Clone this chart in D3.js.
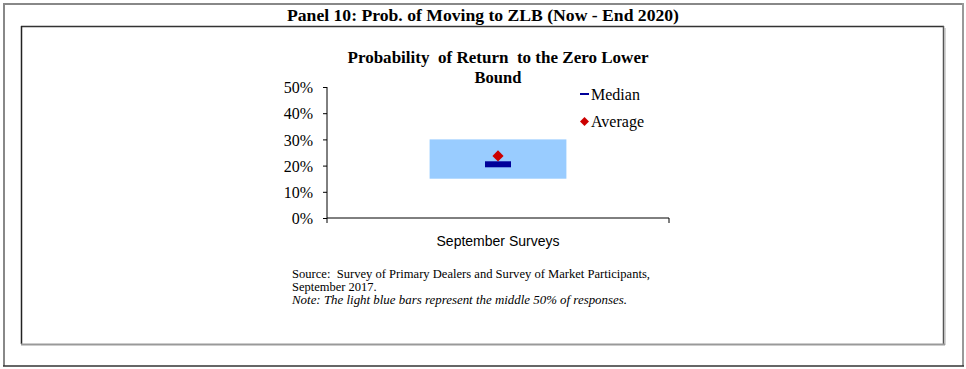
<!DOCTYPE html>
<html><head><meta charset="utf-8">
<script src="https://cdn.jsdelivr.net/npm/d3@7"></script>
<style>body{margin:0;background:#fff}svg{display:block}</style>
</head><body>
<script>
const categories = ["September Surveys"];
const lower25 = [15];
const upper75 = [30];
const median = [20.5];
const average = [23.7];
const yTicks = [0, 10, 20, 30, 40, 50];

const W = 966, H = 369;
const svg = d3.select("body").append("svg").attr("width", W).attr("height", H);
const serif = "'Liberation Serif','Times New Roman',serif";
const sans = "'Liberation Sans',Arial,sans-serif";

// outer frame
svg.append("line").attr("x1",3.5).attr("x2",963).attr("y1",4).attr("y2",4).attr("stroke","#888").attr("stroke-width",2);
svg.append("line").attr("x1",4).attr("x2",4).attr("y1",3).attr("y2",366).attr("stroke","#888").attr("stroke-width",2);
svg.append("line").attr("x1",963).attr("x2",963).attr("y1",3).attr("y2",366).attr("stroke","#999").attr("stroke-width",2);
svg.append("line").attr("x1",3).attr("x2",964).attr("y1",366).attr("y2",366).attr("stroke","#333").attr("stroke-width",1.5);

// header
svg.append("text").attr("x",483).attr("y",21).attr("text-anchor","middle")
  .attr("font-family",serif).attr("font-weight","bold").attr("font-size",16)
  .attr("textLength",392).attr("lengthAdjust","spacingAndGlyphs")
  .text("Panel 10: Prob.  of Moving  to ZLB  (Now - End  2020)");

// inner box
svg.append("line").attr("x1",21).attr("x2",944).attr("y1",26.5).attr("y2",26.5).attr("stroke","#333").attr("stroke-width",1.5);
svg.append("line").attr("x1",21.5).attr("x2",21.5).attr("y1",26).attr("y2",344).attr("stroke","#222").attr("stroke-width",1.5);
svg.append("line").attr("x1",943.5).attr("x2",943.5).attr("y1",26).attr("y2",344).attr("stroke","#555").attr("stroke-width",1.5);
svg.append("line").attr("x1",945).attr("x2",945).attr("y1",28).attr("y2",345).attr("stroke","#aaa").attr("stroke-width",1);
svg.append("line").attr("x1",21).attr("x2",945).attr("y1",344.5).attr("y2",344.5).attr("stroke","#999").attr("stroke-width",2);

// chart
const x = d3.scaleBand().domain(categories).range([327, 669]);
const y = d3.scaleLinear().domain([0, 50]).range([218, 87]);

svg.append("text").attr("x",498).attr("y",63).attr("text-anchor","middle")
  .attr("font-family",serif).attr("font-weight","bold").attr("font-size",16.5)
  .attr("xml:space","preserve")
  .attr("textLength",301).attr("lengthAdjust","spacingAndGlyphs")
  .text("Probability  of Return  to the Zero Lower");
svg.append("text").attr("x",498).attr("y",83).attr("text-anchor","middle")
  .attr("font-family",serif).attr("font-weight","bold").attr("font-size",16.5)
  .text("Bound");

const gy = svg.append("g").attr("transform","translate(327,0)")
  .call(d3.axisLeft(y).tickValues(yTicks).tickSize(4).tickPadding(10).tickFormat(d => d + "%"));
gy.select(".domain").attr("stroke","#000").attr("d","M0," + y(50) + "V" + y(0));
gy.selectAll(".tick line").attr("stroke","#000");
gy.selectAll(".tick text").attr("font-family",serif).attr("font-size",16).attr("fill","#000").attr("dy","0.35em");

const gx = svg.append("g").attr("transform","translate(0,218)")
  .call(d3.axisBottom(x).tickSize(0).tickPadding(18));
gx.select(".domain").attr("stroke","#000").attr("d","M" + x.range()[0] + ",0H" + x.range()[1]);
gx.selectAll(".tick text").attr("font-family",sans).attr("font-size",14).attr("fill","#000");
gx.selectAll(".edge").data(x.range()).enter().append("line").attr("class","edge")
  .attr("x1",d=>d).attr("x2",d=>d).attr("y1",0).attr("y2",5).attr("stroke","#000");

const bw = x.bandwidth();
// interquartile box
svg.selectAll(".iqr").data(categories).enter().append("rect")
  .attr("x",(d)=>x(d)+bw*0.3).attr("width",bw*0.4)
  .attr("y",(d,i)=>y(upper75[i])).attr("height",(d,i)=>y(lower25[i])-y(upper75[i]))
  .attr("fill","#99CCFF");
// median
svg.selectAll(".med").data(categories).enter().append("rect")
  .attr("x",(d)=>x(d)+bw*0.5-13).attr("width",26)
  .attr("y",(d,i)=>y(median[i])-3).attr("height",6)
  .attr("fill","#000099");
// average
svg.selectAll(".avg").data(categories).enter().append("path")
  .attr("d",d3.symbol(d3.symbolSquare,62)())
  .attr("transform",(d,i)=>`translate(${x(d)+bw*0.5},${y(average[i])}) rotate(45)`)
  .attr("fill","#CC0000");

// legend
svg.append("line").attr("x1",580).attr("x2",589).attr("y1",94).attr("y2",94).attr("stroke","#000099").attr("stroke-width",2);
svg.append("text").attr("x",591).attr("y",99.5).attr("font-family",serif).attr("font-size",16).text("Median");
svg.append("path").attr("d",d3.symbol(d3.symbolSquare,40)()).attr("transform","translate(584.5,121.5) rotate(45)").attr("fill","#CC0000");
svg.append("text").attr("x",591).attr("y",127).attr("font-family",serif).attr("font-size",16).text("Average");

// notes
svg.append("text").attr("x",292).attr("y",278).attr("font-family",serif).attr("font-size",12.5).attr("xml:space","preserve")
  .attr("textLength",358).attr("lengthAdjust","spacingAndGlyphs")
  .text("Source:  Survey of Primary Dealers and Survey of Market Participants,");
svg.append("text").attr("x",292).attr("y",291).attr("font-family",serif).attr("font-size",12.5).text("September 2017.");
svg.append("text").attr("x",292).attr("y",304).attr("font-family",serif).attr("font-size",12.5).attr("font-style","italic")
  .attr("textLength",335).attr("lengthAdjust","spacingAndGlyphs")
  .text("Note: The light blue bars represent the middle 50% of responses.");
</script>
</body></html>
